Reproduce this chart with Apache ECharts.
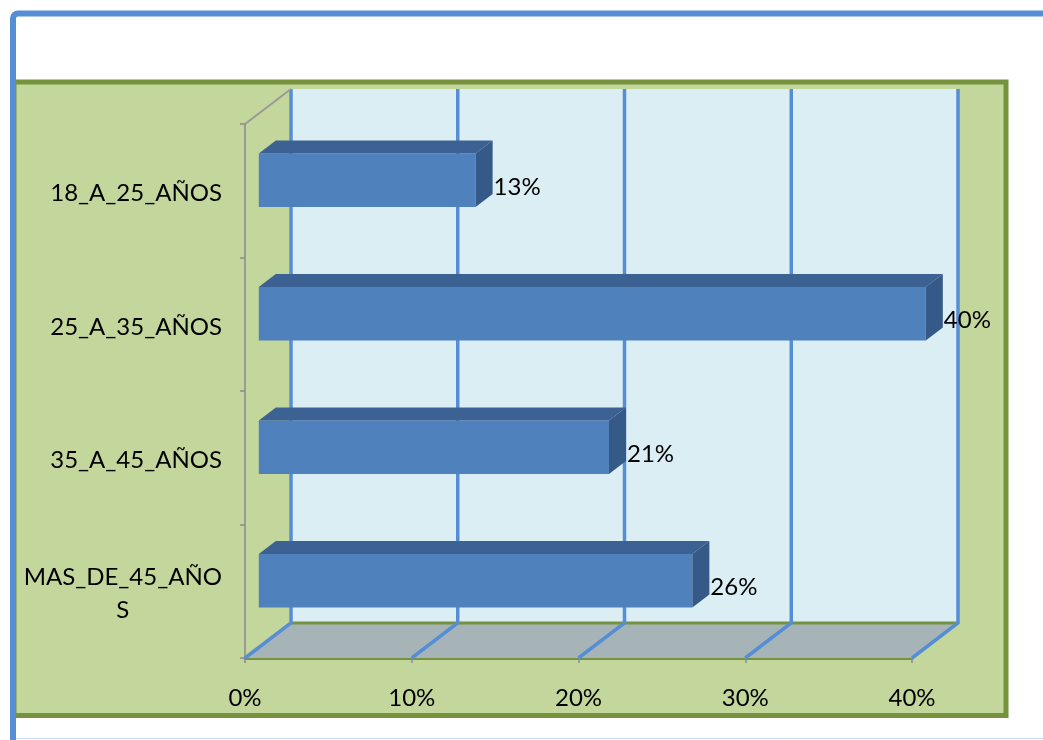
<!DOCTYPE html>
<html>
<head>
<meta charset="utf-8">
<style>
  html, body { margin: 0; padding: 0; background: #ffffff; }
  #chart { width: 1043px; height: 740px; }
</style>
<script src="https://cdn.jsdelivr.net/npm/echarts@6/dist/echarts.min.js"></script>
</head>
<body>
<div id="chart"></div>
<script>
// Age groups and their share of respondents (%)
const categories = ['18_A_25_AÑOS', '25_A_35_AÑOS', '35_A_45_AÑOS', 'MAS_DE_45_AÑOS'];
const shares = [13, 40, 21, 26];
const xTicks = [0, 10, 20, 30, 40];

// 3D look: offset of the back plane relative to the front plane (px)
const DEPTH_DX = 46;
const DEPTH_DY = -35;
const BAR_FRONT = 0.30;   // fraction of depth where bar front sits
const BAR_DEPTH = 0.37;   // fraction of depth the bar occupies
const BAR_SIZE = 0.40;    // bar thickness as fraction of category band

const FONT = 'Lato, "Liberation Sans", sans-serif';
const FS = 24;

const chart = echarts.init(document.getElementById('chart'), null, { renderer: 'canvas' });

function renderWalls(params, api) {
  const cs = params.coordSys;
  const top = cs.y, bottom = cs.y + cs.height;
  const x0 = api.coord([xTicks[0], 0])[0];
  const xN = api.coord([xTicks[xTicks.length - 1], 0])[0];
  const children = [];
  // back wall
  children.push({
    type: 'rect',
    shape: { x: x0 + DEPTH_DX, y: top + DEPTH_DY, width: xN - x0, height: cs.height },
    style: { fill: '#DBEEF4' }
  });
  // floor
  children.push({
    type: 'polygon',
    shape: { points: [[x0, bottom], [xN, bottom], [xN + DEPTH_DX, bottom + DEPTH_DY], [x0 + DEPTH_DX, bottom + DEPTH_DY]] },
    style: { fill: '#A7B4B7' }
  });
  // back edge of the floor
  children.push({
    type: 'line',
    shape: { x1: x0 + DEPTH_DX, y1: bottom + DEPTH_DY, x2: xN + DEPTH_DX, y2: bottom + DEPTH_DY },
    style: { stroke: '#76923C', lineWidth: 3 }
  });
  // gridlines on back wall and floor
  xTicks.forEach(function (t) {
    const x = api.coord([t, 0])[0];
    children.push({
      type: 'polyline',
      shape: { points: [[x, bottom], [x + DEPTH_DX, bottom + DEPTH_DY], [x + DEPTH_DX, top + DEPTH_DY]] },
      style: { stroke: '#558ED5', lineWidth: 3.5, fill: null, lineJoin: 'miter' }
    });
  });
  // top edge of the side wall
  children.push({
    type: 'line',
    shape: { x1: x0, y1: top, x2: x0 + DEPTH_DX, y2: top + DEPTH_DY },
    style: { stroke: '#9A9A9A', lineWidth: 2 }
  });
  return { type: 'group', children: children };
}

function renderBar(params, api) {
  const v = api.value(0);
  const c = api.value(1);
  const pEnd = api.coord([v, c]);
  const pStart = api.coord([0, c]);
  const band = api.size([0, 1])[1];
  const h = band * BAR_SIZE;
  const ox = DEPTH_DX * BAR_FRONT, oy = DEPTH_DY * BAR_FRONT;
  const dx = DEPTH_DX * BAR_DEPTH, dy = DEPTH_DY * BAR_DEPTH;
  const xl = pStart[0] + ox, xr = pEnd[0] + ox;
  const yt = pEnd[1] + oy - h / 2, yb = pEnd[1] + oy + h / 2;
  return {
    type: 'group',
    children: [
      { type: 'rect', shape: { x: xl, y: yt, width: xr - xl, height: h }, style: { fill: '#4F81BD' } },
      { type: 'polygon', shape: { points: [[xl, yt], [xr, yt], [xr + dx, yt + dy], [xl + dx, yt + dy]] }, style: { fill: '#3C6293' } },
      { type: 'polygon', shape: { points: [[xr, yt], [xr + dx, yt + dy], [xr + dx, yb + dy], [xr, yb]] }, style: { fill: '#355A88' } },
      {
        type: 'text',
        x: xr + dx + 1,
        y: (yt + yb) / 2 + 7,
        style: {
          text: v + '%', fill: '#000000', font: FS + 'px ' + FONT,
          align: 'left', verticalAlign: 'middle'
        }
      }
    ]
  };
}

const option = {
  animation: false,
  backgroundColor: '#ffffff',
  graphic: [
    {
      type: 'rect', z: -30, silent: true,
      shape: { x: 14, y: 82, width: 992, height: 633.5 },
      style: { fill: '#C3D69B', stroke: '#76923C', lineWidth: 5 }
    },
    {
      type: 'rect', z: -20, silent: true,
      shape: { x: 13, y: 13.5, width: 1100, height: 800, r: 5 },
      style: { fill: null, stroke: '#558ED5', lineWidth: 6 }
    },
    {
      type: 'line', z: -20, silent: true,
      shape: { x1: 16, y1: 738.5, x2: 1043, y2: 738.5 },
      style: { stroke: '#C6D9F1', lineWidth: 1 }
    }
  ],
  grid: { left: 245, top: 124, width: 667, height: 534, containLabel: false },
  xAxis: {
    type: 'value', min: 0, max: 40, interval: 10,
    axisLine: { show: true, lineStyle: { color: '#76923C', width: 3 } },
    axisTick: { show: true, length: 5, lineStyle: { color: '#8C8C8C', width: 1.5 } },
    splitLine: { show: false },
    axisLabel: {
      formatter: '{value}%', color: '#000000', fontSize: FS, fontFamily: FONT, margin: 28
    }
  },
  yAxis: {
    type: 'category', inverse: true, data: categories,
    axisLine: { show: true, lineStyle: { color: '#9A9A9A', width: 2 } },
    axisTick: { show: true, length: 5, lineStyle: { color: '#8C8C8C', width: 1.5 } },
    splitLine: { show: false },
    axisLabel: {
      color: '#000000', fontSize: FS, fontFamily: FONT, margin: 23,
      padding: [6, 0, 0, 0],
      formatter: function (name) {
        if (name.length > 13) {
          return '{c|' + name.slice(0, 13) + '}\n{c|' + name.slice(13) + '}';
        }
        return name;
      },
      rich: {
        c: { align: 'center', fontSize: FS, fontFamily: FONT, color: '#000000', lineHeight: 33 }
      }
    }
  },
  series: [
    {
      type: 'custom', z: 1, silent: true,
      data: [[0, 0]],
      encode: { x: 0, y: 1 },
      renderItem: renderWalls
    },
    {
      type: 'custom', z: 3, silent: true,
      data: shares.map(function (v, i) { return [v, i]; }),
      encode: { x: 0, y: 1 },
      renderItem: renderBar
    }
  ]
};

chart.setOption(option);
</script>
</body>
</html>
